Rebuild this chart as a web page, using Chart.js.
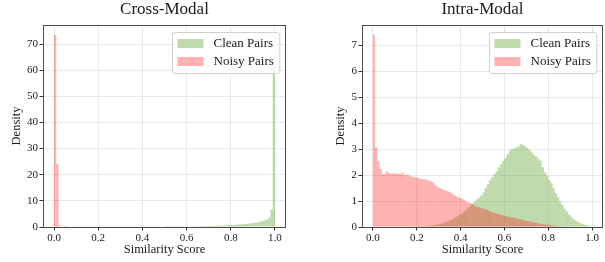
<!DOCTYPE html>
<html>
<head>
<meta charset="utf-8">
<script src="https://cdn.jsdelivr.net/npm/chart.js@4.4.1/dist/chart.umd.min.js"></script>
<style>
  html, body { margin: 0; padding: 0; background: #fff; }
  #wrap { position: relative; width: 605px; height: 262px; overflow: hidden; }
  canvas { position: absolute; top: 0; }
  #chart1 { left: 0; }
  #chart2 { left: 324px; }
</style>
</head>
<body>
<div id="wrap">
  <canvas id="chart1" width="300" height="262"></canvas>
  <canvas id="chart2" width="281" height="262"></canvas>
</div>
<script>
// histogram bins are 0.01 wide, each array starts at the given bin edge
const binWidth = 0.01;
const xTicks = [0, 0.2, 0.4, 0.6, 0.8, 1.0];
const seriesLabels = ['Clean Pairs', 'Noisy Pairs'];

// left panel
const crossTitle = 'Cross-Modal';
const crossYTicks = [0, 10, 20, 30, 40, 50, 60, 70];
const crossYMax = 77.3;
const crossCleanStart = 0.50;
const crossClean = [
  0.08, 0.09, 0.1, 0.11, 0.12, 0.13, 0.14, 0.15, 0.17, 0.18,
  0.2, 0.21, 0.23, 0.25, 0.27, 0.29, 0.31, 0.33, 0.35, 0.38,
  0.4, 0.43, 0.46, 0.49, 0.52, 0.55, 0.59, 0.63, 0.67, 0.71,
  0.76, 0.81, 0.86, 0.92, 0.98, 1.05, 1.12, 1.2, 1.3, 1.4,
  1.52, 1.65, 1.8, 2.0, 2.2, 2.5, 2.9, 3.6, 6.6, 63
];
const crossNoisyStart = 0.00;
const crossNoisy = [73.5, 24, 0.6, 0.2, 0.1, 0.05];

// right panel
const intraTitle = 'Intra-Modal';
const intraYTicks = [0, 1, 2, 3, 4, 5, 6, 7];
const intraYMax = 7.79;
const intraCleanStart = 0.18;
const intraClean = [
  0.01, 0.01, 0.02, 0.02, 0.03, 0.03, 0.04, 0.05, 0.06, 0.07,
  0.08, 0.1, 0.11, 0.13, 0.16, 0.2, 0.23, 0.26, 0.3, 0.35,
  0.4, 0.45, 0.5, 0.58, 0.66, 0.74, 0.82, 0.9, 0.98, 1.06,
  1.14, 1.22, 1.34, 1.5, 1.64, 1.8, 1.92, 2.05, 2.14, 2.3,
  2.42, 2.55, 2.66, 2.8, 2.95, 3.0, 3.02, 3.08, 3.12, 3.2,
  3.17, 3.12, 3.05, 2.97, 2.88, 2.78, 2.72, 2.62, 2.55, 2.3,
  2.1, 1.98, 1.82, 1.7, 1.5, 1.3, 1.15, 0.98, 0.85, 0.7,
  0.6, 0.48, 0.4, 0.32, 0.25, 0.2, 0.15, 0.12, 0.09, 0.07,
  0.05, 0.03
];
const intraNoisyStart = 0.00;
const intraNoisy = [
  7.42, 3.07, 2.53, 2.24, 2.04, 2.04, 2.14, 2.07, 2.06, 2.07,
  2.05, 2.06, 2.04, 2.1, 2.0, 2.01, 1.99, 1.95, 1.94, 1.9,
  1.9, 1.86, 1.85, 1.84, 1.82, 1.8, 1.76, 1.72, 1.62, 1.55,
  1.5, 1.47, 1.43, 1.4, 1.37, 1.33, 1.28, 1.2, 1.17, 1.13,
  1.1, 1.05, 0.98, 0.95, 0.92, 0.88, 0.82, 0.78, 0.76, 0.73,
  0.71, 0.68, 0.65, 0.6, 0.57, 0.55, 0.52, 0.49, 0.46, 0.44,
  0.42, 0.4, 0.38, 0.37, 0.35, 0.33, 0.31, 0.29, 0.27, 0.25,
  0.23, 0.21, 0.19, 0.17, 0.15, 0.13, 0.12, 0.11, 0.1, 0.09,
  0.08, 0.07, 0.06, 0.05, 0.04, 0.03, 0.03, 0.02, 0.02, 0.01
];

const cleanColor = 'rgba(112, 173, 71, 0.45)';
const noisyColor = 'rgba(255, 0, 0, 0.3)';
const serif = '"Liberation Serif", "DejaVu Serif", serif';
const textColor = '#1a1a1a';

function toBins(start, values) {
  return values.map((v, i) => ({ x: +(start + (i + 0.5) * binWidth).toFixed(4), y: v }));
}

// title, frame and legend drawn matplotlib-style
const decorPlugin = {
  id: 'decor',
  afterDatasetsDraw(chart) {
    const { ctx, chartArea: a } = chart;
    const L = Math.round(a.left), T = Math.round(a.top), R = Math.round(a.right), B = Math.round(a.bottom);
    ctx.save();
    ctx.strokeStyle = '#4d4d4d';
    ctx.lineWidth = 1;
    ctx.strokeRect(L + 0.5, T + 0.5, R - L - 1, B - T);
    ctx.restore();
  },
  afterDraw(chart, args, opts) {
    const { ctx, chartArea: a } = chart;
    ctx.save();
    ctx.fillStyle = textColor;
    ctx.font = '17px ' + serif;
    ctx.textAlign = 'center';
    ctx.textBaseline = 'alphabetic';
    ctx.fillText(opts.title, (a.left + a.right) / 2, 14);

    ctx.font = '13px ' + serif;
    const sets = chart.data.datasets;
    const tw = Math.max(...sets.map(d => ctx.measureText(d.label).width));
    const w = 5 + 26 + 10 + tw + 6;
    const h = 41;
    const x0 = Math.round(a.right - 7 - w) + 0.5;
    const y0 = Math.round(a.top + 7) + 0.5;
    ctx.beginPath();
    ctx.roundRect(x0, y0, w, h, 2.5);
    ctx.fillStyle = 'rgba(255,255,255,0.8)';
    ctx.fill();
    ctx.strokeStyle = '#d0d0d0';
    ctx.lineWidth = 1;
    ctx.stroke();
    ctx.textAlign = 'left';
    ctx.textBaseline = 'middle';
    sets.forEach((d, i) => {
      const cy = y0 + 11 + i * 18;
      ctx.fillStyle = d.backgroundColor;
      ctx.fillRect(x0 + 5, cy - 4.5, 26, 9);
      ctx.fillStyle = textColor;
      ctx.fillText(d.label, x0 + 41, cy + 0.5);
    });
    ctx.restore();
  }
};

function makeChart(canvas, title, yTicks, yMax, yWidth, padRight, clean, noisy) {
  const tickFont = { family: serif, size: 11 };
  const labelFont = { family: serif, size: 12.5 };
  const grid = { color: '#e8e8e8', lineWidth: 1, tickLength: 3.5, tickColor: '#333', offset: false };
  return new Chart(canvas.getContext('2d'), {
    type: 'bar',
    data: {
      datasets: [
        { label: seriesLabels[0], data: clean, backgroundColor: cleanColor, order: 1 },
        { label: seriesLabels[1], data: noisy, backgroundColor: noisyColor, order: 0 }
      ]
    },
    options: {
      responsive: false,
      animation: false,
      layout: { padding: { left: 0, right: padRight, top: 25, bottom: 0 } },
      datasets: {
        bar: {
          grouped: false,
          barPercentage: 1,
          categoryPercentage: 1,
          borderWidth: 0,
          inflateAmount: 0.04
        }
      },
      plugins: {
        legend: { display: false },
        tooltip: { enabled: false },
        decor: { title: title }
      },
      scales: {
        x: {
          type: 'linear',
          min: -0.05,
          max: 1.05,
          offset: false,
          afterBuildTicks: s => { s.ticks = xTicks.map(v => ({ value: v })); },
          afterFit: s => { s.height = 35; },
          ticks: { callback: v => v.toFixed(1), font: tickFont, color: textColor, padding: 1.5, maxRotation: 0, autoSkip: false },
          grid: grid,
          border: { display: false },
          title: { display: true, text: 'Similarity Score', font: labelFont, color: textColor, padding: { top: 0, bottom: 5 } }
        },
        y: {
          type: 'linear',
          min: 0,
          max: yMax,
          afterBuildTicks: s => { s.ticks = yTicks.map(v => ({ value: v })); },
          afterFit: s => { s.width = yWidth; },
          ticks: { callback: v => String(v), font: tickFont, color: textColor, padding: 1.5 },
          grid: grid,
          border: { display: false },
          title: { display: true, text: 'Density', font: labelFont, color: textColor, padding: { top: 9.5, bottom: 0 } }
        }
      }
    },
    plugins: [decorPlugin]
  });
}

document.addEventListener('DOMContentLoaded', function () {
  makeChart(document.getElementById('chart1'), crossTitle, crossYTicks, crossYMax, 43, 14,
    toBins(crossCleanStart, crossClean), toBins(crossNoisyStart, crossNoisy));
  makeChart(document.getElementById('chart2'), intraTitle, intraYTicks, intraYMax, 38, 2,
    toBins(intraCleanStart, intraClean), toBins(intraNoisyStart, intraNoisy));
});
</script>
</body>
</html>
